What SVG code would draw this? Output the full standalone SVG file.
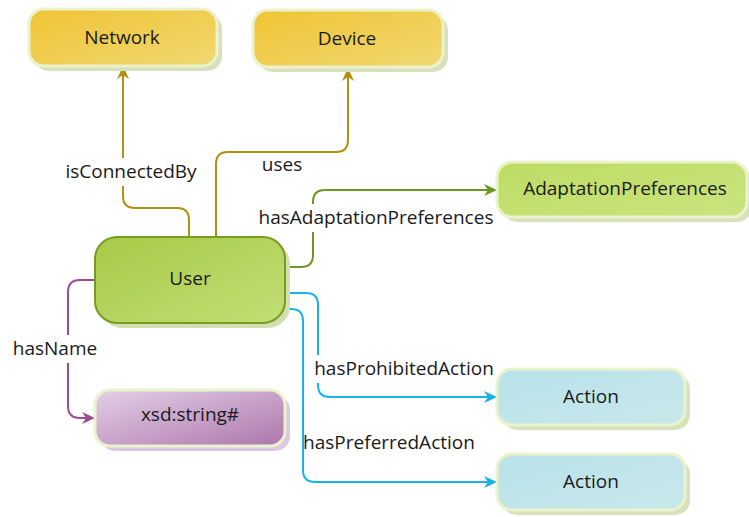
<svg xmlns="http://www.w3.org/2000/svg" width="749" height="517" viewBox="0 0 749 517">
<defs>
<linearGradient id="gY" x1="0" y1="0" x2="1" y2="1"><stop offset="0" stop-color="#f0c434"/><stop offset="1" stop-color="#f0d872"/></linearGradient>
<linearGradient id="gG" x1="0" y1="0" x2="1" y2="1"><stop offset="0" stop-color="#a6ca48"/><stop offset="1" stop-color="#c2de74"/></linearGradient>
<linearGradient id="gLG" x1="0" y1="0" x2="1" y2="1"><stop offset="0" stop-color="#bcdc62"/><stop offset="1" stop-color="#cbe480"/></linearGradient>
<linearGradient id="gP" x1="0" y1="0" x2="1" y2="1"><stop offset="0" stop-color="#e4d0e8"/><stop offset="1" stop-color="#ad76ab"/></linearGradient>
<linearGradient id="gC" x1="0" y1="0" x2="1" y2="1"><stop offset="0" stop-color="#b8e2ea"/><stop offset="1" stop-color="#c8e8ea"/></linearGradient>
<marker id="aGold" markerWidth="14" markerHeight="12" refX="13" refY="6" orient="auto" markerUnits="userSpaceOnUse"><path d="M0,0 L13,6 L0,12 L4,6 z" fill="#b38f0f"/></marker>
<marker id="aGreen" markerWidth="14" markerHeight="12" refX="13" refY="6" orient="auto" markerUnits="userSpaceOnUse"><path d="M0,0 L13,6 L0,12 L4,6 z" fill="#6e9620"/></marker>
<marker id="aBlue" markerWidth="14" markerHeight="12" refX="13" refY="6" orient="auto" markerUnits="userSpaceOnUse"><path d="M0,0 L13,6 L0,12 L4,6 z" fill="#18b2ea"/></marker>
<marker id="aPurple" markerWidth="14" markerHeight="12" refX="13" refY="6" orient="auto" markerUnits="userSpaceOnUse"><path d="M0,0 L13,6 L0,12 L4,6 z" fill="#9a4d94"/></marker>
</defs>
<style>
text{font-family:"Open Sans","Noto Sans",sans-serif;font-size:19px;fill:#1a1a1a}
.nt{text-anchor:middle}
.shadow{fill:#d8e0bc}
.box{stroke:#eaf3cc;stroke-width:3}
.edge{fill:none;stroke-width:2}
.gold{stroke:#b38f0f}
.green{stroke:#6e9620}
.blue{stroke:#18b2ea}
.purple{stroke:#9a4d94}
.lbg{fill:#ffffff}
</style>
<g id="connectors">
<path class="edge gold" d="M189,237 V220 Q189,208 177,208 H135 Q123,208 123,196 V66" marker-end="url(#aGold)"/>
<path class="edge gold" d="M216,237 V164 Q216,152 228,152 H336 Q348,152 348,140 V68" marker-end="url(#aGold)"/>
<path class="edge green" d="M285,267 H301 Q313,267 313,255 V202 Q313,190 325,190 H497" marker-end="url(#aGreen)"/>
<path class="edge blue" d="M285,293 H306 Q318,293 318,305 V385 Q318,397 330,397 H497" marker-end="url(#aBlue)"/>
<path class="edge blue" d="M285,309 H291 Q303,309 303,321 V470 Q303,482 315,482 H497" marker-end="url(#aBlue)"/>
<path class="edge purple" d="M95,280 H80 Q68,280 68,292 V406 Q68,418 80,418 H95" marker-end="url(#aPurple)"/>
<rect class="lbg" x="65" y="158" width="133" height="28"/>
<text class="nt" x="131" y="178">isConnectedBy</text>
<rect class="lbg" x="262" y="153" width="41" height="25"/>
<text class="nt" x="282" y="171">uses</text>
<rect class="lbg" x="259" y="204" width="235" height="28"/>
<text class="nt" x="376" y="224">hasAdaptationPreferences</text>
<rect class="lbg" x="313" y="355" width="182" height="28"/>
<text class="nt" x="404" y="375">hasProhibitedAction</text>
<rect class="lbg" x="304" y="429" width="172" height="28"/>
<text class="nt" x="389" y="449">hasPreferredAction</text>
<rect class="lbg" x="12" y="335" width="86" height="28"/>
<text class="nt" x="55" y="355">hasName</text>
</g>
<g id="network">
<rect class="shadow" x="34" y="14" width="188" height="57" rx="15"/>
<rect class="box" x="29" y="9" width="188" height="57" rx="15" fill="url(#gY)"/>
<text class="nt" x="122" y="44">Network</text>
</g>
<g id="device">
<rect class="shadow" x="258" y="15" width="190" height="57" rx="15"/>
<rect class="box" x="253" y="10" width="190" height="57" rx="15" fill="url(#gY)"/>
<text class="nt" x="347" y="45">Device</text>
</g>
<g id="adaptationpreferences">
<rect class="shadow" x="502" y="167" width="250" height="55" rx="15"/>
<rect class="box" x="497" y="162" width="250" height="55" rx="15" fill="url(#gLG)"/>
<text class="nt" x="625" y="195">AdaptationPreferences</text>
</g>
<g id="user">
<rect x="100" y="242" width="190" height="86" rx="22" fill="#d4dfb0"/>
<rect x="95" y="237" width="190" height="86" rx="22" fill="url(#gG)" stroke="#789c20" stroke-width="2"/>
<text class="nt" x="190" y="285">User</text>
</g>
<g id="xsdstring">
<rect x="100" y="395" width="190" height="56" rx="15" fill="#dcc8e4"/>
<rect class="box" x="95" y="390" width="190" height="56" rx="15" fill="url(#gP)"/>
<text class="nt" x="190" y="421">xsd:string#</text>
</g>
<g id="action1">
<rect class="shadow" x="502" y="374" width="188" height="56" rx="15"/>
<rect class="box" x="497" y="369" width="188" height="56" rx="15" fill="url(#gC)"/>
<text class="nt" x="591" y="403">Action</text>
</g>
<g id="action2">
<rect class="shadow" x="502" y="459" width="188" height="56" rx="15"/>
<rect class="box" x="497" y="454" width="188" height="56" rx="15" fill="url(#gC)"/>
<text class="nt" x="591" y="488">Action</text>
</g>
</svg>
